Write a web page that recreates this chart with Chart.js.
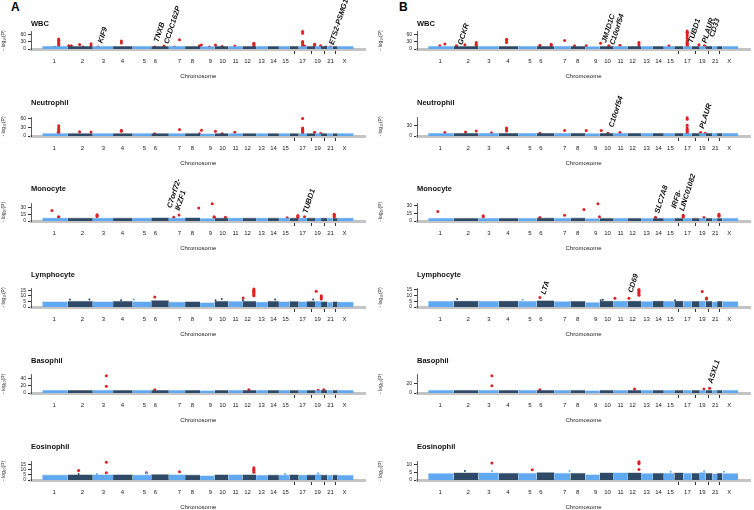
<!DOCTYPE html>
<html>
<head>
<meta charset="utf-8">
<script src="https://cdn.jsdelivr.net/npm/chart.js@4.4.1/dist/chart.umd.min.js"></script>
<style>
  html, body { margin: 0; padding: 0; background: #fff; }
  body { width: 754px; height: 510px; position: relative; overflow: hidden; font-family: "Liberation Sans", Arial, sans-serif; }
  canvas { position: absolute; }
  .letter { position: absolute; font-weight: bold; font-size: 12px; line-height: 1; color: #000; }
</style>
</head>
<body>
<div class="letter" style="left:11px;top:1px">A</div>
<div class="letter" style="left:399px;top:1px">B</div>
<script>
// chromosomes (Mb) and x axis ticks
const chromNames = ['1','2','3','4','5','6','7','8','9','10','11','12','13','14','15','16','17','18','19','20','21','22','X'];
const chromLengths = [249, 243, 198, 191, 181, 171, 159, 146, 141, 136, 135, 134, 115, 107, 103, 90, 81, 78, 59, 63, 48, 51, 155];
const chromTickPos = [117, 390, 595, 780, 995, 1102, 1336, 1463, 1639, 1756, 1883, 2000, 2137, 2254, 2371, 2454, 2537, 2619, 2683, 2748, 2810, 2853, 2946];
const chromTickLabels = ['1','2','3','4','5','6','7','8','9','10','11','12','13','14','15','','17','','19','','21','','X'];

const traits = ['WBC', 'Neutrophil', 'Monocyte', 'Lymphocyte', 'Basophil', 'Eosinophil'];

// y axis ticks and top of axis, column A then column B
const yTicksA = [[0, 30, 60], [0, 30, 60], [0, 15, 30], [0, 5, 10, 15], [0, 20, 40], [0, 5, 10, 15]];
const yTicksB = [[0, 30, 60], [0, 30], [0, 15, 30], [0, 5, 10, 15], [0, 20], [0, 5, 10]];
const yMaxA = [72, 65.5, 39.7, 17, 52, 17.5];
const yMaxB = [72, 53, 34.6, 16.2, 39.4, 12.2];

// background band height per chromosome (-log10 P)
const bandA_WBC   = [10, 10, 10, 10, 10, 10, 10, 10, 9, 10, 10, 10, 10, 10, 10, 10, 10, 10, 10, 10, 10, 10, 10];
const bandA_Neut  = [8, 8, 8, 8, 8, 8, 8, 8, 7, 8, 8, 8, 8, 8, 8, 8, 8, 8, 8, 8, 8, 8, 8];
const bandA_Mono  = [6, 6, 6, 6, 6, 6.5, 6, 6.5, 5, 6, 6, 6, 6, 6, 6, 6, 6, 6, 6, 6, 6, 6, 6];
const bandA_Lymph = [4.5, 5, 4.5, 5, 4.5, 5.5, 4.2, 4.5, 3.6, 5, 4.8, 5, 4.2, 5, 4.5, 4.8, 4.5, 4.8, 5, 4.5, 4, 4.5, 4.2];
const bandA_Baso  = [7, 7, 7, 7, 7, 7, 7, 7, 6, 7, 7, 7, 7, 7, 7, 7, 7, 7, 7, 7, 7, 7, 7];
const bandA_Eos   = [4.6, 4.8, 4.8, 4.8, 4.6, 5, 4.8, 4.6, 3.8, 4.8, 4.8, 4.8, 4.4, 4.6, 4.6, 4.8, 4.6, 4.6, 5, 4.6, 4.2, 4.6, 4.4];
const bandB_WBC   = [10, 10, 10, 10, 10, 10, 10, 10, 9, 10, 10, 10, 10, 10, 10, 10, 10, 10, 10, 10, 10, 10, 10];
const bandB_Neut  = [7, 7, 7, 7, 7, 7, 7, 7, 6, 7, 7, 7, 7, 7, 7, 7, 7, 7, 7, 7, 7, 7, 7];
const bandB_Mono  = [5, 5, 5, 5, 5, 5.5, 5, 5.5, 4.2, 5, 5, 5, 5, 5, 5, 5, 5, 5, 5, 5, 5, 5, 5];
const bandB_Lymph = [4.6, 4.8, 4.6, 4.8, 4.6, 5.2, 4.4, 4.6, 3.6, 4.8, 4.8, 4.8, 4.4, 4.8, 4.6, 4.8, 4.6, 4.6, 4.8, 4.6, 4.2, 4.6, 4.4];
const bandB_Baso  = [5.5, 5.5, 5.5, 5.5, 5.5, 5.5, 5.5, 5.5, 4.5, 5.5, 5.5, 5.5, 5.5, 5.5, 5.5, 5.5, 5.5, 5.5, 5.5, 5.5, 5.5, 5.5, 5.5];
const bandB_Eos   = [4.2, 4.6, 4.6, 4.4, 4.4, 4.8, 4.4, 4.4, 3.4, 4.6, 4.6, 4.6, 4.2, 4.4, 4.4, 4.6, 4.4, 4.4, 4.8, 4.4, 4, 4.4, 4.2];

// sub-threshold peaks above the band: [chromosome, Mb, -log10 P]
const peaksA_Lymph = [['2', 20, 6.6], ['2', 210, 6.6], ['4', 78, 6], ['5', 10, 6.6], ['10', 10, 6], ['10', 70, 7.2], ['12', 5, 6], ['14', 70, 6.6], ['18', 60, 6.6]];
const peaksB_Lymph = [['2', 34, 6.8], ['5', 44, 6.2], ['10', 10, 5.7], ['10', 30, 6.2], ['16', 7, 5.7]];
const peaksA_Eos = [['2', 105, 5.7], ['3', 40, 5.7], ['5', 134, 6.4], ['15', 60, 5.7], ['19', 30, 6.4]];
const peaksB_Eos = [['2', 110, 6], ['3', 131, 6], ['7', 150, 6], ['15', 68, 5.5], ['19', 42, 6], ['X', 16, 5.5]];

// genome-wide significant SNPs: [chromosome, Mb, -log10 P]
const hitsA_WBC = [
  ['1', 120, 7], ['1', 160, 42], ['1', 160, 36], ['1', 160, 30], ['1', 160, 24], ['1', 160, 18], ['1', 160, 12], ['1', 160, 8],
  ['2', 8, 14], ['2', 34, 14], ['2', 115, 19], ['2', 148, 8], ['2', 226, 22], ['2', 226, 14], ['3', 51, 8],
  ['4', 81, 33], ['4', 81, 25], ['6', 34, 8], ['6', 125, 12], ['6', 125, 8], ['7', 55, 8], ['7', 104, 38],
  ['8', 140, 14], ['8', 140, 8], ['9', 13, 17], ['9', 91, 8], ['10', 9, 17], ['10', 74, 10], ['11', 61, 12],
  ['12', 112, 24], ['12', 112, 20], ['12', 112, 14],
  ['17', 38, 73], ['17', 38, 66], ['17', 38, 31], ['17', 38, 26], ['17', 38, 19], ['17', 38, 13], ['17', 38, 8], ['17', 57, 13],
  ['18', 74, 20], ['18', 74, 14], ['19', 54, 14], ['19', 54, 10], ['20', 44, 8], ['21', 30, 8]
];
const hitsA_Neut = [
  ['1', 160, 35], ['1', 160, 28], ['1', 160, 22], ['1', 160, 16], ['1', 160, 10], ['1', 160, 8], ['1', 155, 12],
  ['2', 115, 15], ['2', 226, 14], ['4', 81, 20], ['4', 81, 16], ['6', 34, 8], ['7', 104, 22], ['8', 140, 8],
  ['9', 13, 20], ['10', 9, 16], ['10', 74, 8], ['11', 61, 13],
  ['17', 38, 60], ['17', 38, 28], ['17', 38, 22], ['17', 38, 20], ['17', 38, 16], ['17', 38, 12], ['17', 38, 8],
  ['18', 74, 13], ['19', 54, 9]
];
const hitsA_Mono = [
  ['1', 94, 23], ['1', 160, 9.5], ['1', 160, 8], ['3', 42, 14], ['3', 42, 12], ['3', 42, 10], ['7', 48, 8], ['7', 100, 13],
  ['8', 133, 28.5], ['9', 118, 38], ['9', 137, 9.5], ['9', 137, 8], ['10', 106, 8], ['15', 81, 7],
  ['16', 82, 12], ['16', 82, 10], ['16', 82, 8], ['17', 57, 9.5], ['22', 17, 15], ['22', 17, 13], ['22', 17, 11], ['22', 17, 9.5]
];
const hitsA_Lymph = [
  ['6', 34, 9], ['12', 8, 8], ['12', 112, 16.2], ['12', 112, 15], ['12', 112, 14], ['12', 112, 13], ['12', 112, 12], ['12', 112, 11], ['12', 112, 10],
  ['19', 12, 14], ['20', 2, 10], ['20', 2, 8.7], ['20', 2, 7.2]
];
const hitsA_Baso = [['3', 132, 49], ['3', 132, 19], ['6', 34, 9.5], ['12', 63, 9.5], ['19', 32, 7.6], ['20', 27, 9.5], ['20', 27, 7]];
const hitsA_Eos = [
  ['2', 105, 9], ['3', 132, 17], ['3', 132, 7], ['5', 134, 7], ['7', 104, 8],
  ['12', 112, 11.8], ['12', 112, 10.5], ['12', 112, 9.6], ['12', 112, 8.6], ['12', 112, 7.3]
];
const hitsB_WBC = [
  ['1', 114, 14], ['1', 163, 21], ['2', 27, 14], ['2', 27, 9], ['2', 110, 18], ['2', 221, 27], ['2', 221, 20], ['2', 221, 14],
  ['4', 77, 41], ['4', 77, 35], ['4', 77, 27], ['6', 31, 16], ['6', 31, 8], ['6', 142, 20], ['6', 142, 14], ['7', 102, 35],
  ['8', 40, 14], ['9', 9, 14], ['10', 8, 24], ['10', 89, 14], ['10', 89, 10], ['11', 62, 16],
  ['12', 113, 27], ['12', 113, 22], ['12', 113, 14], ['15', 50, 14],
  ['17', 36, 75], ['17', 36, 70], ['17', 36, 67], ['17', 36, 62], ['17', 36, 54], ['17', 36, 45], ['17', 36, 35.5],
  ['17', 36, 28], ['17', 36, 24], ['17', 36, 19], ['17', 36, 14], ['17', 36, 10], ['17', 40, 12],
  ['18', 70, 18], ['19', 45, 14], ['19', 52, 10]
];
const hitsB_Neut = [
  ['1', 163, 10], ['2', 116, 11], ['2', 221, 14], ['3', 128, 9], ['4', 77, 22], ['4', 77, 18], ['4', 77, 14], ['6', 31, 8],
  ['7', 102, 15], ['9', 9, 15], ['10', 15, 15], ['10', 80, 8], ['11', 62, 10],
  ['17', 36, 51], ['17', 36, 47], ['17', 36, 30], ['17', 36, 23], ['17', 36, 18], ['17', 36, 15], ['17', 36, 12], ['17', 36, 9], ['17', 36, 7],
  ['19', 8, 10], ['19', 50, 8]
];
const hitsB_Mono = [
  ['1', 94, 18.5], ['3', 46, 10], ['3', 46, 8], ['6', 31, 6.5], ['7', 102, 11], ['8', 132, 22], ['9', 123, 33], ['9', 138, 8],
  ['14', 26, 7], ['16', 87, 11], ['16', 87, 9], ['16', 87, 7.5], ['19', 41, 6.5], ['22', 18, 13], ['22', 18, 11], ['22', 18, 9]
];
const hitsB_Lymph = [
  ['6', 31, 8.2], ['11', 13, 7.4], ['12', 15, 7.4], ['12', 113, 15], ['12', 113, 14], ['12', 113, 13], ['12', 113, 12], ['12', 113, 11], ['12', 113, 10],
  ['19', 24, 13.3], ['20', 8, 7.6], ['20', 8, 6.8]
];
const hitsB_Baso = [['3', 131, 37], ['3', 131, 15.7], ['6', 31, 7], ['12', 70, 8.6], ['19', 41, 8.6], ['20', 37, 10]];
const hitsB_Eos = [['3', 131, 11.3], ['5', 137, 6.9], ['12', 113, 12.2], ['12', 113, 11.5], ['12', 113, 10.9], ['12', 113, 7]];

// gene annotations: [label, chromosome, Mb, -log10 P where the label starts]
const genesA_WBC = [['KIF9', '3', 74, 26], ['TNXB', '6', 50, 30], ['CCDC162P', '6', 148, 22], ['ETS2-PSMG1', '21', 39, 18]];
const genesA_Mono = [['C7orf72-\nIKZF1', '7', 6, 29], ['TUBD1', '17', 64, 17.6]];
const genesB_WBC = [['GCKR', '2', 64, 18], ['JMJD1C', '10', 41, 27], ['C10orf54', '10', 122, 18], ['TUBD1', '17', 70, 26], ['PLAUR', '19', 44, 26], ['CD33', '20', 60, 50]];
const genesB_Neut = [['C10orf54', '10', 112, 25], ['PLAUR', '19', 19, 21.6]];
const genesB_Mono = [['SLC7A8', '14', 41, 15.4], ['IRF8-\nLINC01082', '15', 97, 25]];
const genesB_Lymph = [['LTA', '6', 64, 11], ['CD69', '12', 30, 12.4]];
const genesB_Baso = [['ASXL1', '20', 45, 21.5]];

const chromStart = {};
let acc = 0;
chromNames.forEach((c, i) => { chromStart[c] = acc; acc += chromLengths[i]; });

const LIGHT = '#60a9f0';
const DARK = '#2e4a67';
const RED = '#e01f1f';
const FONT = '"Liberation Sans", Arial, sans-serif';

// page layout (pixels)
const colLeft = [0, 377];
const axisX = [31, 40];
const rightPad = [11.5, 2];
const rowZero = [49.3, 135.7, 221.3, 307.3, 393.3, 480];
const rowAxisTop = [32, 116.7, 203.3, 288.3, 375, 461.7];
const rowTitle = [24, 102.7, 189, 275, 361, 446.7];

function toXY(list) {
  return list.map(h => ({ x: chromStart[h[0]] + h[1], y: h[2] }));
}

function bandPoints(tops, parity) {
  const pts = [];
  chromNames.forEach((c, i) => {
    if (i % 2 !== parity) return;
    const s = chromStart[c], e = s + chromLengths[i];
    pts.push({ x: s, y: tops[i] }, { x: e, y: tops[i] }, { x: e + 0.1, y: null });
  });
  return pts;
}

const geneLabels = {
  id: 'geneLabels',
  afterDatasetsDraw(chart, args, opts) {
    const ctx = chart.ctx;
    const xs = chart.scales.x, ys = chart.scales.y;
    (opts.genes || []).forEach(g => {
      const px = xs.getPixelForValue(chromStart[g[1]] + g[2]);
      const py = ys.getPixelForValue(g[3]);
      ctx.save();
      ctx.translate(px, py);
      ctx.rotate(-72 * Math.PI / 180);
      ctx.font = 'italic bold 7.5px ' + FONT;
      ctx.fillStyle = '#111';
      ctx.textAlign = 'left';
      ctx.textBaseline = 'middle';
      g[0].split('\n').forEach((line, k) => ctx.fillText(line, 0, k * 8.5));
      ctx.restore();
    });
  }
};

const panels = [
  { col: 0, row: 0, band: bandA_WBC, peaks: [], hits: hitsA_WBC, genes: genesA_WBC },
  { col: 0, row: 1, band: bandA_Neut, peaks: [], hits: hitsA_Neut, genes: [] },
  { col: 0, row: 2, band: bandA_Mono, peaks: [], hits: hitsA_Mono, genes: genesA_Mono },
  { col: 0, row: 3, band: bandA_Lymph, peaks: peaksA_Lymph, hits: hitsA_Lymph, genes: [] },
  { col: 0, row: 4, band: bandA_Baso, peaks: [], hits: hitsA_Baso, genes: [] },
  { col: 0, row: 5, band: bandA_Eos, peaks: peaksA_Eos, hits: hitsA_Eos, genes: [] },
  { col: 1, row: 0, band: bandB_WBC, peaks: [], hits: hitsB_WBC, genes: genesB_WBC },
  { col: 1, row: 1, band: bandB_Neut, peaks: [], hits: hitsB_Neut, genes: genesB_Neut },
  { col: 1, row: 2, band: bandB_Mono, peaks: [], hits: hitsB_Mono, genes: genesB_Mono },
  { col: 1, row: 3, band: bandB_Lymph, peaks: peaksB_Lymph, hits: hitsB_Lymph, genes: genesB_Lymph },
  { col: 1, row: 4, band: bandB_Baso, peaks: [], hits: hitsB_Baso, genes: genesB_Baso },
  { col: 1, row: 5, band: bandB_Eos, peaks: peaksB_Eos, hits: hitsB_Eos, genes: [] }
];

const CANVAS_W = 377, CANVAS_H = 86, PLOT_BOTTOM = 52, XAXIS_H = 30.6, TITLE_LH = 9;

panels.forEach(p => {
  const canvas = document.createElement('canvas');
  canvas.width = CANVAS_W;
  canvas.height = CANVAS_H;
  const top = rowZero[p.row] - PLOT_BOTTOM;
  canvas.style.left = colLeft[p.col] + 'px';
  canvas.style.top = top + 'px';
  document.body.appendChild(canvas);

  const yTicks = p.col === 0 ? yTicksA[p.row] : yTicksB[p.row];
  const yMax = p.col === 0 ? yMaxA[p.row] : yMaxB[p.row];
  const padTop = rowTitle[p.row] - TITLE_LH / 2 - top;
  const titleGap = rowAxisTop[p.row] - rowTitle[p.row] - TITLE_LH / 2;
  const peakColors = p.peaks.map(h => chromNames.indexOf(h[0]) % 2 === 0 ? LIGHT : DARK);

  new Chart(canvas, {
    type: 'scatter',
    data: {
      datasets: [
        { type: 'line', data: bandPoints(p.band, 0), backgroundColor: LIGHT, borderColor: LIGHT, borderWidth: 0.5,
          pointRadius: 0, fill: 'origin', spanGaps: false },
        { type: 'line', data: bandPoints(p.band, 1), backgroundColor: DARK, borderColor: DARK, borderWidth: 0.5,
          pointRadius: 0, fill: 'origin', spanGaps: false },
        { data: toXY(p.peaks), pointBackgroundColor: peakColors, pointBorderWidth: 0, pointRadius: 1 },
        { data: toXY(p.hits), pointBackgroundColor: RED, pointBorderWidth: 0, pointRadius: 1.5, clip: false }
      ]
    },
    options: {
      responsive: false,
      animation: false,
      devicePixelRatio: 1,
      layout: { padding: { left: 0, right: rightPad[p.col], top: padTop, bottom: CANVAS_H - PLOT_BOTTOM - XAXIS_H } },
      plugins: {
        legend: { display: false },
        tooltip: { enabled: false },
        title: {
          display: true, text: traits[p.row], align: 'start', fullSize: false, color: '#111',
          font: { family: FONT, size: 7.5, weight: 'bold' }, padding: { top: 0, bottom: titleGap }
        },
        geneLabels: { genes: p.genes }
      },
      scales: {
        x: {
          type: 'linear', min: -110, max: 3150,
          afterBuildTicks: s => { s.ticks = chromTickPos.map(v => ({ value: v })); },
          afterFit: s => { s.height = XAXIS_H; },
          ticks: { autoSkip: false, maxRotation: 0, padding: 4, color: '#222', font: { family: FONT, size: 6 },
            callback: (v, i) => chromTickLabels[i] },
          grid: { drawOnChartArea: false, tickLength: 5,
            tickColor: c => chromTickLabels[c.index] ? 'rgba(0,0,0,0)' : '#333' },
          border: { display: true, color: '#c4c4c4', width: 3 },
          title: { display: true, text: 'Chromosome', color: '#222', font: { family: FONT, size: 6 }, padding: 0 }
        },
        y: {
          min: 0, max: yMax,
          afterBuildTicks: s => { s.ticks = yTicks.map(v => ({ value: v })); },
          afterFit: s => { s.width = axisX[p.col]; },
          ticks: { autoSkip: false, padding: 2, color: '#222', font: { family: FONT, size: 5 } },
          grid: { drawOnChartArea: false, tickLength: 3, tickColor: '#333' },
          border: { display: true, color: '#333', width: 0.8 },
          title: { display: true, text: '- log\u2081\u2080(P)', color: '#222', font: { family: FONT, size: 5 }, padding: { top: 1, bottom: 0 } }
        }
      }
    },
    plugins: [geneLabels]
  });
});
</script>
</body>
</html>
